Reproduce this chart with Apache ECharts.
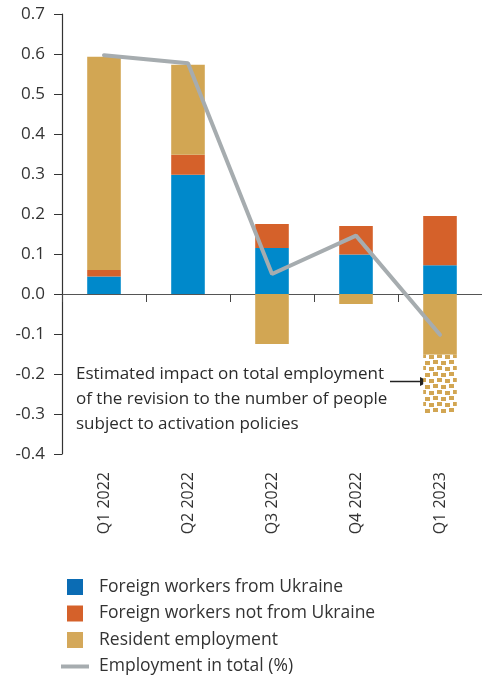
<!DOCTYPE html>
<html>
<head>
<meta charset="utf-8">
<script src="https://cdn.jsdelivr.net/npm/echarts@6/dist/echarts.min.js"></script>
<style>
  html, body { margin: 0; padding: 0; background: #fff; }
  #chart { width: 482px; height: 680px; }
</style>
</head>
<body>
<div id="chart"></div>
<script>
// Contributions to employment growth, percentage points
const categories = ['Q1 2022', 'Q2 2022', 'Q3 2022', 'Q4 2022', 'Q1 2023'];
const ukraineWorkers = [0.044, 0.298, 0.115, 0.099, 0.072];
const otherForeignWorkers = [0.016, 0.050, 0.060, 0.071, 0.123];
const residentEmployment = [0.533, 0.225, -0.125, -0.025, -0.152];
const revisionImpact = [null, null, null, null, -0.146];
const totalEmployment = [0.597, 0.577, 0.050, 0.146, -0.102];
const yTicks = { min: -0.4, max: 0.7, step: 0.1 };

const FONT = '"Open Sans", "DejaVu Sans", sans-serif';
const BLUE = '#0089CB', ORANGE = '#D5612A', GOLD = '#D2A653', GREY = '#A6ACAF';

// Staggered brick fill for the revision segment
function makeDotPattern() {
  const c = document.createElement('canvas');
  c.width = 16; c.height = 12;
  const g = c.getContext('2d');
  g.fillStyle = '#fff';
  g.fillRect(0, 0, 16, 12);
  g.fillStyle = GOLD;
  g.fillRect(1, 0, 5, 4);
  g.fillRect(9, 1, 5, 4);
  g.fillRect(5, 6, 5, 4);
  g.fillRect(13, 7, 3, 4);
  g.fillRect(0, 7, 2, 4);
  return c;
}

const chart = echarts.init(document.getElementById('chart'), null, { renderer: 'canvas' });

const option = {
  animation: false,
  backgroundColor: '#fff',
  grid: { left: 62, top: 14, width: 425, height: 440 },
  xAxis: [
    {
      type: 'category',
      data: categories,
      axisLine: { onZero: true, lineStyle: { color: '#555', width: 1.2 } },
      axisTick: { show: true, length: 8, lineStyle: { color: '#444' } },
      axisLabel: { show: false }
    },
    {
      type: 'category',
      data: categories,
      position: 'bottom',
      axisLine: { show: false, onZero: false },
      axisTick: { show: false },
      axisLabel: { rotate: 90, margin: 18, color: '#333', fontSize: 16, fontFamily: FONT }
    }
  ],
  yAxis: {
    type: 'value',
    min: yTicks.min,
    max: yTicks.max,
    interval: yTicks.step,
    axisLine: { show: true, lineStyle: { color: '#333', width: 1.2 } },
    axisTick: { show: true, length: 8, lineStyle: { color: '#333' } },
    splitLine: { show: false },
    axisLabel: {
      margin: 17, color: '#333', fontSize: 17, fontFamily: FONT,
      formatter: v => v.toFixed(1)
    }
  },
  legend: {
    // horizontal with a narrow width so that each entry sits on its own row
    orient: 'horizontal',
    left: 61,
    top: 578,
    width: 360,
    padding: 0,
    itemWidth: 28,
    itemHeight: 16,
    itemGap: 8.5,
    textStyle: { color: '#333', fontSize: 17.5, lineHeight: 16, fontFamily: FONT, padding: [0, 0, 0, 5] },
    data: [
      { name: 'Foreign workers from Ukraine', icon: 'path://M0,0h16v16h-16z', itemStyle: { color: '#0B6CB4' } },
      { name: 'Foreign workers not from Ukraine', icon: 'path://M0,0h16v16h-16z', itemStyle: { color: ORANGE } },
      { name: 'Resident employment', icon: 'path://M0,0h16v16h-16z', itemStyle: { color: '#D4A85A' } },
      { name: 'Employment in total (%)', icon: 'path://M0,0h28v4h-28z', itemStyle: { color: GREY } }
    ]
  },
  series: [
    {
      name: 'Foreign workers from Ukraine', type: 'bar', stack: 'c',
      barWidth: '40%', data: ukraineWorkers, itemStyle: { color: BLUE }
    },
    {
      name: 'Foreign workers not from Ukraine', type: 'bar', stack: 'c',
      data: otherForeignWorkers, itemStyle: { color: ORANGE }
    },
    {
      name: 'Resident employment', type: 'bar', stack: 'c',
      data: residentEmployment, itemStyle: { color: GOLD }
    },
    {
      name: 'Revision impact', type: 'bar', stack: 'c',
      data: revisionImpact,
      itemStyle: { color: { image: makeDotPattern(), repeat: 'repeat' } }
    },
    {
      name: 'Employment in total (%)', type: 'line',
      data: totalEmployment, symbol: 'none', z: 5,
      lineStyle: { color: GREY, width: 4, cap: 'round' },
      itemStyle: { color: GREY }
    }
  ],
  graphic: [
    {
      type: 'text', left: 76, top: 362,
      style: {
        text: 'Estimated impact on total employment\nof the revision to the number of people\nsubject to activation policies',
        font: '17px ' + FONT, fill: '#2b2b2b', lineHeight: 25
      }
    },
    {
      type: 'line',
      shape: { x1: 390, y1: 381.5, x2: 422, y2: 381.5 },
      style: { stroke: '#222', lineWidth: 1.5 }
    },
    {
      type: 'polygon',
      shape: { points: [[429, 381.5], [420, 377], [420, 386]] },
      style: { fill: '#222' }
    }
  ]
};

chart.setOption(option);
</script>
</body>
</html>
